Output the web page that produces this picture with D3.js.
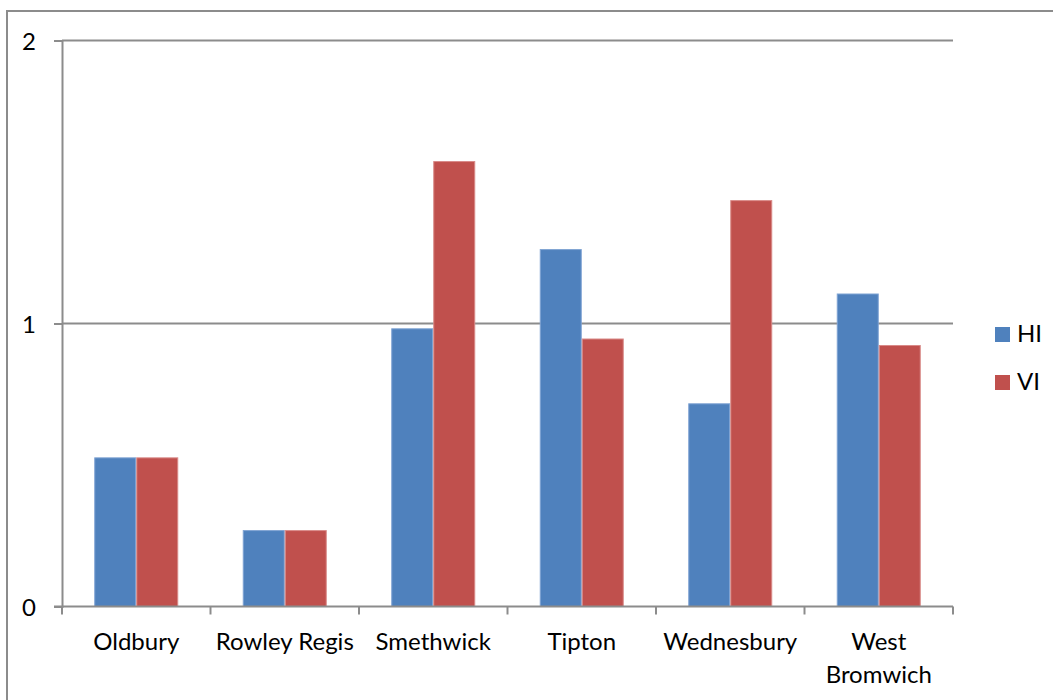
<!DOCTYPE html>
<html>
<head>
<meta charset="utf-8">
<script src="https://cdn.jsdelivr.net/npm/d3@7"></script>
<style>
  html, body { margin: 0; padding: 0; background: #fff; }
  svg { display: block; }
  text { font-family: Lato, "Open Sans", sans-serif; fill: #000; }
</style>
</head>
<body>
<svg id="chart" width="1053" height="700"></svg>
<script>
// Towns along the category axis
const towns = ["Oldbury", "Rowley Regis", "Smethwick", "Tipton", "Wednesbury", "West Bromwich"];
// Series names and values per town
const seriesNames = ["HI", "VI"];
const hiValues = [0.527, 0.270, 0.983, 1.263, 0.718, 1.106];
const viValues = [0.527, 0.270, 1.574, 0.947, 1.436, 0.924];
// Value axis ticks
const yTicks = [0, 1, 2];

const colors = { HI: "#4F81BD", VI: "#C0504D" };
const edges = { HI: "#7FA3D3", VI: "#D98A88" };

const svg = d3.select("#chart");
const W = 1053, H = 700;

// Outer chart frame
svg.append("rect")
  .attr("x", 7).attr("y", 11)
  .attr("width", W + 10).attr("height", H + 10)
  .attr("fill", "#fff").attr("stroke", "#8c8c8c").attr("stroke-width", 2);

const plot = { left: 62, top: 40.5, width: 891, height: 566 };

const x0 = d3.scaleBand().domain(towns).range([plot.left, plot.left + plot.width]).padding(0);
const gap = 32.25;
const x1 = d3.scaleBand().domain(seriesNames).range([gap, x0.bandwidth() - gap]).padding(0);
const y = d3.scaleLinear().domain([0, 2]).range([plot.top + plot.height, plot.top]);

// Horizontal gridlines
svg.append("g").selectAll("line")
  .data(yTicks.filter(d => d > 0))
  .join("line")
  .attr("x1", plot.left).attr("x2", plot.left + plot.width)
  .attr("y1", d => y(d)).attr("y2", d => y(d))
  .attr("stroke", "#8c8c8c").attr("stroke-width", 2);

// Bars
const rows = towns.map((t, i) => ({ town: t, values: [
  { key: "HI", value: hiValues[i] },
  { key: "VI", value: viValues[i] }
]}));

svg.append("g").selectAll("g")
  .data(rows)
  .join("g")
  .attr("transform", d => `translate(${x0(d.town)},0)`)
  .selectAll("rect")
  .data(d => d.values)
  .join("rect")
  .attr("x", d => x1(d.key) + 0.5)
  .attr("y", d => y(d.value) + 0.5)
  .attr("width", x1.bandwidth() - 1)
  .attr("height", d => y(0) - y(d.value) - 0.5)
  .attr("fill", d => colors[d.key])
  .attr("stroke", d => edges[d.key])
  .attr("stroke-width", 1);

// Value axis
const yAxis = d3.axisLeft(y).tickValues(yTicks).tickSize(8).tickPadding(18).tickFormat(d3.format("d"));
const gy = svg.append("g").attr("transform", `translate(${plot.left},0)`).call(yAxis);
gy.select(".domain").attr("stroke", "#8c8c8c").attr("stroke-width", 2);
gy.selectAll(".tick line").attr("stroke", "#8c8c8c").attr("stroke-width", 2);
gy.selectAll(".tick text").attr("font-size", 24).attr("font-family", "Lato, sans-serif").attr("dy", "0.36em");

// Category axis with ticks between bands
const gx = svg.append("g");
gx.append("line")
  .attr("x1", plot.left - 8).attr("x2", plot.left + plot.width)
  .attr("y1", y(0)).attr("y2", y(0))
  .attr("stroke", "#8c8c8c").attr("stroke-width", 2);
const boundaries = towns.map(t => x0(t)).concat([x0(towns[towns.length - 1]) + x0.bandwidth()]);
gx.selectAll("line.tk")
  .data(boundaries)
  .join("line")
  .attr("class", "tk")
  .attr("x1", d => d).attr("x2", d => d)
  .attr("y1", y(0)).attr("y2", y(0) + 8)
  .attr("stroke", "#8c8c8c").attr("stroke-width", 2);

// Category labels (long names wrap onto two lines)
const wrapped = { "West Bromwich": ["West", "Bromwich"] };
gx.selectAll("text.cat")
  .data(towns)
  .join("text")
  .attr("class", "cat")
  .attr("text-anchor", "middle")
  .attr("font-size", 24)
  .attr("x", d => x0(d) + x0.bandwidth() / 2)
  .attr("y", y(0) + 43)
  .each(function(d) {
    const lines = wrapped[d] || [d];
    d3.select(this).selectAll("tspan")
      .data(lines)
      .join("tspan")
      .attr("x", x0(d) + x0.bandwidth() / 2)
      .attr("dy", (l, i) => i === 0 ? 0 : 33)
      .text(l => l);
  });

// Legend
const legend = svg.append("g");
const legendItems = legend.selectAll("g")
  .data(seriesNames)
  .join("g")
  .attr("transform", (d, i) => `translate(995,${327 + i * 48})`);
legendItems.append("rect")
  .attr("width", 15).attr("height", 15)
  .attr("fill", d => colors[d]);
legendItems.append("text")
  .attr("x", 22).attr("y", 15)
  .attr("font-size", 24)
  .text(d => d);
</script>
</body>
</html>
